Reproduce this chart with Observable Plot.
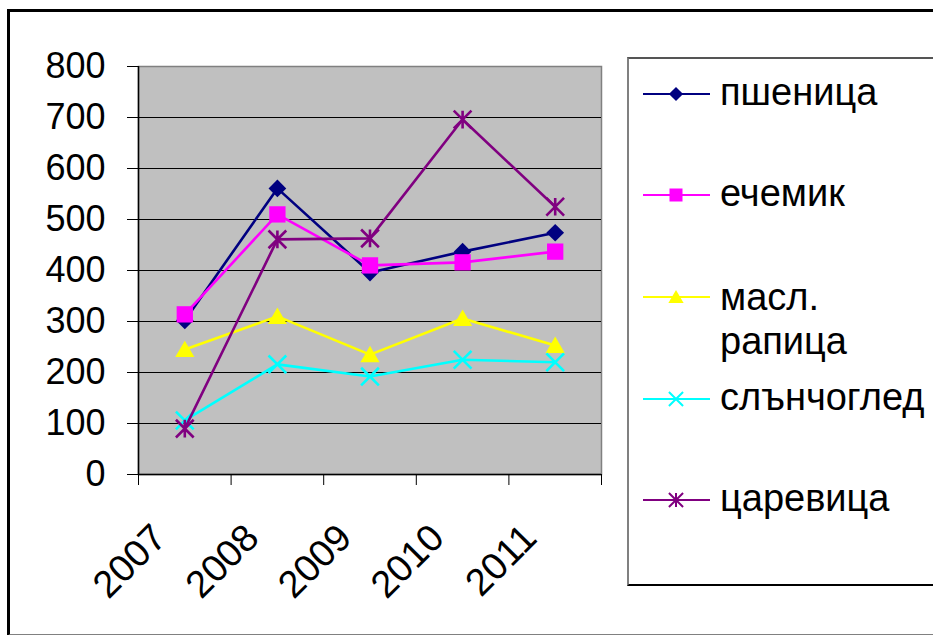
<!DOCTYPE html>
<html>
<head>
<meta charset="utf-8">
<script src="https://cdn.jsdelivr.net/npm/d3@7"></script>
<script src="https://cdn.jsdelivr.net/npm/@observablehq/plot@0.6"></script>
<style>
  html, body { margin: 0; padding: 0; background: #fff; }
  #page { position: relative; width: 933px; height: 635px; overflow: hidden; font-family: "Liberation Sans", Arial, sans-serif; }
  #outer { position: absolute; left: 7px; top: 9px; width: 940px; height: 622px; border-left: 3px solid #000; border-top: 3px solid #000; border-bottom: 2px solid #808080; box-sizing: content-box; }
  #chart { position: absolute; left: 0; top: 0; }
  #legend { position: absolute; left: 627px; top: 57px; width: 330px; height: 525px; border-left: 2px solid #808080; border-top: 2px solid #555; border-bottom: 2px solid #000; background: #fff; }
</style>
</head>
<body>
<div id="page">
  <div id="outer"></div>
  <div id="chart"></div>
  <div id="legend"></div>
</div>
<script>
// ---- data ----
const years = ["2007", "2008", "2009", "2010", "2011"];
const seriesNames = ["пшеница", "ечемик", "масл. рапица", "слънчоглед", "царевица"];
const wheat     = [302, 561, 396, 437, 474];
const barley    = [314, 510, 410, 416, 437];
const rapeseed  = [245, 310, 235, 306, 253];
const sunflower = [106, 216, 192, 225, 220];
const maize     = [90, 461, 463, 696, 525];
const yTicks = [0, 100, 200, 300, 400, 500, 600, 700, 800];

// ---- marker shapes ----
const symDiamond = { draw(c, s) { const h = Math.sqrt(s) / 2; c.moveTo(0, -h); c.lineTo(h, 0); c.lineTo(0, h); c.lineTo(-h, 0); c.closePath(); } };
const symSquare  = { draw(c, s) { const h = Math.sqrt(s) / 2 * 0.92; c.rect(-h, -h, 2 * h, 2 * h); } };
const symTriangle= { draw(c, s) { const h = Math.sqrt(s) / 2; c.moveTo(0, -h * 1.0); c.lineTo(h * 1.08, h * 0.85); c.lineTo(-h * 1.08, h * 0.85); c.closePath(); } };
const symTimes   = { draw(c, s) { const h = Math.sqrt(s) / 2; c.moveTo(-h, -h); c.lineTo(h, h); c.moveTo(-h, h); c.lineTo(h, -h); } };
const symStar    = { draw(c, s) { const h = Math.sqrt(s) / 2; c.moveTo(-h, -h); c.lineTo(h, h); c.moveTo(-h, h); c.lineTo(h, -h); c.moveTo(0, -h); c.lineTo(0, h); } };

const series = [
  { name: seriesNames[0], values: wheat,     color: "#000080", symbol: symDiamond,  filled: true },
  { name: seriesNames[1], values: barley,    color: "#FF00FF", symbol: symSquare,   filled: true },
  { name: seriesNames[2], values: rapeseed,  color: "#FFFF00", symbol: symTriangle, filled: true },
  { name: seriesNames[3], values: sunflower, color: "#00FFFF", symbol: symTimes,    filled: false },
  { name: seriesNames[4], values: maize,     color: "#800080", symbol: symStar,     filled: false }
];

const idx = years.map((_, i) => i);
const boundaries = years.map((_, i) => i - 0.5).concat([years.length - 0.5]);

const seriesMarks = series.flatMap(s => {
  const rows = idx.map(i => ({ i, v: s.values[i] }));
  return [
    Plot.line(rows, { x: "i", y: "v", stroke: s.color, strokeWidth: 2.6 }),
    Plot.dot(rows, s.filled
      ? { x: "i", y: "v", symbol: s.symbol, r: 10, fill: s.color, stroke: "none" }
      : { x: "i", y: "v", symbol: s.symbol, r: 10, fill: "none", stroke: s.color, strokeWidth: 2.6 })
  ];
});

const chart = Plot.plot({
  width: 933,
  height: 635,
  marginLeft: 138,
  marginRight: 332,
  marginTop: 66,
  marginBottom: 161,
  style: { fontFamily: "'Liberation Sans', Arial, sans-serif", background: "transparent", color: "#000" },
  x: { type: "linear", domain: [-0.5, years.length - 0.5], label: null },
  y: { domain: [0, 800], label: null },
  marks: [
    Plot.frame({ fill: "#C0C0C0", stroke: "#808080", strokeWidth: 1.5 }),
    Plot.gridY(yTicks.filter(t => t > 0 && t < 800), { stroke: "#000", strokeOpacity: 1, strokeWidth: 1 }),
    Plot.ruleX([-0.5], { stroke: "#000", strokeWidth: 1.5 }),
    Plot.ruleY([0], { stroke: "#000", strokeWidth: 1.5 }),
    Plot.axisY({ ticks: yTicks, tickSize: 11, tickPadding: 22, fontSize: 36, tickFormat: d => String(d), stroke: "#000", label: null }),
    Plot.axisX({ ticks: boundaries, tickFormat: () => "", tickSize: 11, stroke: "#000", label: null }),
    Plot.axisX({ ticks: idx, tickFormat: i => years[i], tickSize: 0, tickPadding: 0, tickRotate: -45, fontSize: 38, dx: -25, dy: 57, label: null }),
    ...seriesMarks
  ]
});
document.getElementById("chart").appendChild(chart);

// ---- legend ----
const legendSvg = d3.select("#legend").append("svg")
  .attr("width", 330).attr("height", 525)
  .style("font-family", "'Liberation Sans', Arial, sans-serif");
const legendY = [35, 136, 238, 340, 441];
series.forEach((s, k) => {
  const g = legendSvg.append("g").attr("transform", `translate(0, ${legendY[k]})`);
  g.append("line").attr("x1", 14).attr("x2", 81).attr("y1", 0).attr("y2", 0)
    .attr("stroke", s.color).attr("stroke-width", 2);
  const p = d3.path();
  s.symbol.draw(p, 200);
  g.append("path").attr("transform", "translate(47,0)").attr("d", p.toString())
    .attr("fill", s.filled ? s.color : "none")
    .attr("stroke", s.filled ? "none" : s.color)
    .attr("stroke-width", 2);
  const parts = s.name === "масл. рапица" ? ["масл.", "рапица"] : [s.name];
  const t = g.append("text").attr("x", 91).attr("y", parts.length > 1 ? 13 : 11).attr("font-size", 38).attr("fill", "#000");
  parts.forEach((line, j) => t.append("tspan").attr("x", 91).attr("dy", j === 0 ? 0 : 44).text(line));
});
</script>
</body>
</html>
